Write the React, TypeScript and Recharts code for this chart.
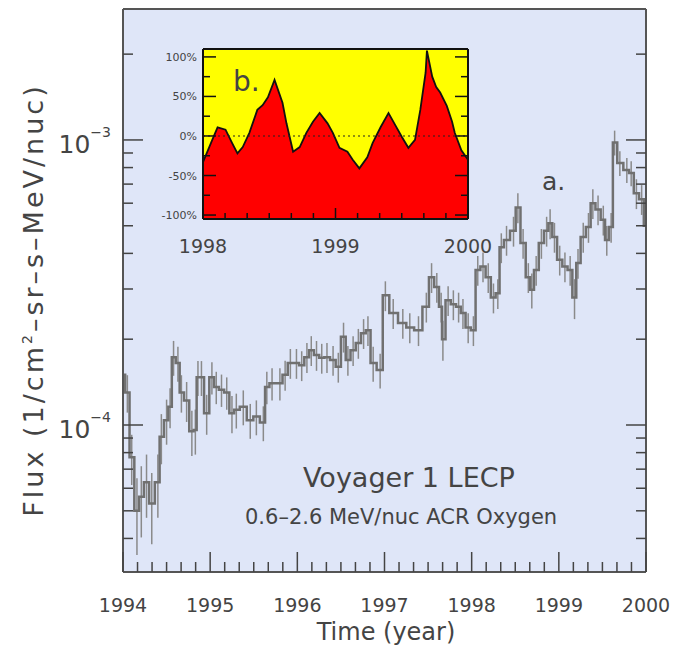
import React from 'react';
import { ComposedChart, AreaChart, Area, Line, ErrorBar, XAxis, YAxis, CartesianGrid, ReferenceLine } from 'recharts';

const FONT = '"DejaVu Sans", sans-serif';
const INK = '#444';

// panel a: ACR oxygen flux (units of 1e-4)
const fluxYears = [
  1994.00, 1994.05, 1994.10, 1994.16, 1994.21, 1994.27, 1994.33, 1994.40, 1994.44, 1994.50,
  1994.54, 1994.58, 1994.63, 1994.67, 1994.73, 1994.79, 1994.83, 1994.86, 1994.90, 1994.96,
  1995.02, 1995.07, 1995.13, 1995.19, 1995.25, 1995.30, 1995.38, 1995.46, 1995.53, 1995.61,
  1995.65, 1995.71, 1995.80, 1995.86, 1995.92, 1995.99,
  1996.05, 1996.11, 1996.16, 1996.22, 1996.28, 1996.34, 1996.41, 1996.47, 1996.53, 1996.58,
  1996.64, 1996.70, 1996.76, 1996.81, 1996.87, 1996.95,
  1997.01, 1997.10, 1997.21, 1997.29, 1997.39, 1997.48, 1997.54, 1997.60, 1997.65, 1997.67,
  1997.73, 1997.79, 1997.85, 1997.90, 1997.96,
  1998.02, 1998.07, 1998.13, 1998.19, 1998.25, 1998.30, 1998.34, 1998.40, 1998.48, 1998.53,
  1998.59, 1998.65, 1998.69, 1998.74, 1998.80, 1998.86, 1998.90, 1998.95,
  1999.01, 1999.07, 1999.13, 1999.18, 1999.22, 1999.28, 1999.34, 1999.39, 1999.45, 1999.51,
  1999.55, 1999.60, 1999.64, 1999.70, 1999.78, 1999.83, 1999.89, 1999.95,
  2000.00,
];
const fluxValues = [
  1.50, 1.30, 0.77, 0.50, 0.56, 0.63, 0.53, 0.63, 0.91, 1.04,
  1.16, 1.73, 1.65, 1.30, 1.22, 0.95, 0.96, 1.47, 1.47, 1.10,
  1.47, 1.36, 1.33, 1.30, 1.10, 1.13, 1.16, 1.04, 1.07, 1.02,
  1.36, 1.40, 1.40, 1.50, 1.65, 1.65,
  1.62, 1.73, 1.83, 1.76, 1.72, 1.73, 1.69, 1.60, 2.04, 1.69,
  1.83, 1.94, 2.10, 2.15, 1.65, 1.56,
  2.85, 2.47, 2.28, 2.20, 2.15, 2.60, 3.30, 3.05, 2.60, 2.00,
  2.74, 2.65, 2.60, 2.47, 2.20,
  2.15, 3.50, 3.60, 3.30, 2.80, 2.90, 4.20, 4.46, 4.80, 5.80,
  4.35, 3.30, 2.98, 3.50, 4.35, 4.80, 5.10, 4.57,
  3.80, 3.60, 3.50, 2.80, 3.70, 4.57, 4.95, 6.00, 5.70, 5.25,
  4.46, 4.95, 9.80, 8.30, 7.85, 7.65, 6.50, 6.20,
  5.00,
];
// error bar half length, percent of the value
const fluxErrPct = [
  15, 15, 20, 30, 28, 25, 28, 25, 20, 18,
  16, 14, 14, 15, 16, 18, 18, 14, 14, 16,
  13, 13, 13, 13, 15, 14, 14, 14, 14, 14,
  13, 13, 13, 12, 12, 12,
  12, 12, 12, 12, 12, 12, 12, 12, 12, 12,
  12, 12, 12, 12, 14, 14,
  12, 12, 12, 12, 12, 12, 12, 12, 12, 16,
  12, 12, 12, 12, 12,
  12, 12, 12, 12, 12, 12, 12, 12, 12, 12,
  12, 12, 14, 12, 12, 12, 12, 12,
  12, 12, 12, 16, 12, 12, 12, 12, 12, 12,
  12, 12, 10, 10, 10, 10, 12, 12,
  18,
];

// panel b: modulation in percent, 1998-2000
const modYears = [
  1998.00, 1998.07, 1998.11, 1998.17, 1998.22, 1998.26, 1998.30, 1998.35, 1998.41, 1998.45,
  1998.49, 1998.54, 1998.60, 1998.63, 1998.68, 1998.73, 1998.78, 1998.83, 1998.88, 1998.94,
  1998.98, 1999.03, 1999.09, 1999.13, 1999.18, 1999.24, 1999.28, 1999.34, 1999.40, 1999.45,
  1999.50, 1999.55, 1999.60, 1999.64, 1999.68, 1999.69, 1999.73, 1999.76, 1999.79, 1999.84,
  1999.88, 1999.90, 1999.95, 2000.00,
];
const modPercent = [
  -33, -5, 11, 8, -9, -22, -14, 4, 33, 39,
  49, 71, 42, 16, -20, -14, 4, 18, 29, 16,
  4, -15, -20, -30, -41, -27, -9, 11, 29, 14,
  -1, -15, -5, 33, 80, 108, 75, 62, 55, 38,
  18, 4, -18, -30,
];

const yearLabels = [1994, 1995, 1996, 1997, 1998, 1999, 2000];
const insetYearLabels = [1998, 1999, 2000];
const fluxDecades = [1e-4, 1e-3];
const fluxMinor = [4e-5, 5e-5, 6e-5, 7e-5, 8e-5, 9e-5, 2e-4, 3e-4, 4e-4, 5e-4, 6e-4, 7e-4, 8e-4, 9e-4, 2e-3];
const pctLabels = [-100, -50, 0, 50, 100];
const pctMinor = [-75, -25, 25, 75];

const mainData = fluxYears.map((t, i) => {
  const f = fluxValues[i] * 1e-4;
  const e = (f * fluxErrPct[i]) / 100;
  return { year: t, flux: f, err: [e, e] };
});
const insetData = modYears.map((t, i) => ({ year: t, mod: modPercent[i] }));

const sixths = (years: number[]) =>
  years.flatMap((y, i) => (i === years.length - 1 ? [y] : [0, 1, 2, 3, 4, 5].map((k) => y + k / 6)));
const isWhole = (v: number) => Math.abs(v - Math.round(v)) < 1e-6;

function xTick(side: 'top' | 'bottom', majorLen: number, minorLen: number, fontSize: number, dy: number, color: string) {
  return (p: any) => {
    const v = p.payload.value;
    const big = isWhole(v);
    const dir = side === 'bottom' ? -1 : 1;
    return (
      <g>
        <line x1={p.x} x2={p.x} y1={p.y} y2={p.y + dir * (big ? majorLen : minorLen)} stroke={color} strokeWidth={1.5} />
        {side === 'bottom' && big ? (
          <text x={p.x} y={p.y + dy} textAnchor="middle" fontSize={fontSize} fill={INK} fontFamily={FONT}>
            {Math.round(v)}
          </text>
        ) : null}
      </g>
    );
  };
}

function fluxTick(side: 'left' | 'right') {
  return (p: any) => {
    const v = p.payload.value;
    const big = fluxDecades.some((d) => Math.abs(d - v) / d < 1e-6);
    const dir = side === 'left' ? 1 : -1;
    return (
      <g>
        <line x1={p.x} x2={p.x + dir * (big ? 20 : 10)} y1={p.y} y2={p.y} stroke={INK} strokeWidth={1.5} />
        {side === 'left' && big ? (
          <text x={p.x - 12} y={p.y + 13} textAnchor="end" fill={INK} fontFamily={FONT}>
            <tspan fontSize={25}>10</tspan>
            <tspan fontSize={14} dy={-16}>{'\u2212' + Math.abs(Math.round(Math.log10(v)))}</tspan>
          </text>
        ) : null}
      </g>
    );
  };
}

function pctTick(side: 'left' | 'right') {
  return (p: any) => {
    const v = p.payload.value;
    const big = pctLabels.includes(v);
    const dir = side === 'left' ? 1 : -1;
    return (
      <g>
        <line x1={p.x} x2={p.x + dir * (big ? 13 : 7)} y1={p.y} y2={p.y} stroke="#111" strokeWidth={1.5} />
        {side === 'left' && big ? (
          <text x={p.x - 6} y={p.y + 4} textAnchor="end" fontSize={11} fill={INK} fontFamily={FONT}>
            {v + '%'}
          </text>
        ) : null}
      </g>
    );
  };
}

const mainXTicks = sixths(yearLabels);
const insetXTicks = sixths(insetYearLabels);
const fluxTicks = [...fluxDecades, ...fluxMinor].sort((a, b) => a - b);
const pctTicks = [...pctLabels, ...pctMinor].sort((a, b) => a - b);

export default function App() {
  return (
    <div style={{ position: 'absolute', left: 0, top: 0, width: 675, height: 648, background: '#fff', fontFamily: FONT }}>
      <ComposedChart width={675} height={648} data={mainData} margin={{ top: 8, right: 28, bottom: 46, left: 63 }}>
        <CartesianGrid xAxisId="b" yAxisId="l" fill="#dfe6f8" fillOpacity={1} horizontal={false} vertical={false} />
        <XAxis xAxisId="b" dataKey="year" type="number" domain={[1994, 2000]} allowDataOverflow ticks={mainXTicks}
          interval={0} height={30} tickSize={0} tickMargin={0} tickLine={false}
          axisLine={{ stroke: '#555', strokeWidth: 2 }} tick={xTick('bottom', 20, 10, 19, 40, INK)} />
        <XAxis xAxisId="t" orientation="top" type="number" domain={[1994, 2000]} allowDataOverflow ticks={mainXTicks}
          interval={0} height={1} tickSize={0} tickMargin={0} tickLine={false}
          axisLine={{ stroke: '#555', strokeWidth: 2 }} tick={xTick('top', 20, 10, 19, 0, INK)} />
        <YAxis yAxisId="l" type="number" scale="log" domain={[3.05e-5, 2.88e-3]} allowDataOverflow ticks={fluxTicks}
          interval={0} width={60} tickSize={0} tickMargin={0} tickLine={false}
          axisLine={{ stroke: '#555', strokeWidth: 2 }} tick={fluxTick('left')} />
        <YAxis yAxisId="r" orientation="right" type="number" scale="log" domain={[3.05e-5, 2.88e-3]} allowDataOverflow
          ticks={fluxTicks} interval={0} width={1} tickSize={0} tickMargin={0} tickLine={false}
          axisLine={{ stroke: '#555', strokeWidth: 2 }} tick={fluxTick('right')} />
        <Line xAxisId="b" yAxisId="l" dataKey="flux" type="step" stroke="#707070" strokeWidth={2.5} dot={false}
          isAnimationActive={false}>
          <ErrorBar dataKey="err" direction="y" width={0} stroke="#8a8a8a" strokeWidth={1.5} />
        </Line>
      </ComposedChart>

      <div style={{ position: 'absolute', left: 140, top: 40 }}>
        <AreaChart width={365} height={222} data={insetData} margin={{ top: 8, right: 36, bottom: 13, left: 3 }}>
          <CartesianGrid xAxisId="b" yAxisId="l" fill="#ffff00" fillOpacity={1} horizontal={false} vertical={false} />
          <XAxis xAxisId="b" dataKey="year" type="number" domain={[1998, 2000]} allowDataOverflow ticks={insetXTicks}
            interval={0} height={30} tickSize={0} tickMargin={0} tickLine={false}
            axisLine={{ stroke: '#111', strokeWidth: 2 }} tick={xTick('bottom', 11, 6, 19, 34, '#111')} />
          <XAxis xAxisId="t" orientation="top" type="number" domain={[1998, 2000]} allowDataOverflow ticks={insetXTicks}
            interval={0} height={1} tickSize={0} tickMargin={0} tickLine={false}
            axisLine={{ stroke: '#111', strokeWidth: 2 }} tick={xTick('top', 11, 6, 19, 0, '#111')} />
          <YAxis yAxisId="l" type="number" domain={[-105, 110]} allowDataOverflow ticks={pctTicks} interval={0}
            width={60} tickSize={0} tickMargin={0} tickLine={false}
            axisLine={{ stroke: '#111', strokeWidth: 2 }} tick={pctTick('left')} />
          <YAxis yAxisId="r" orientation="right" type="number" domain={[-105, 110]} allowDataOverflow ticks={pctTicks}
            interval={0} width={1} tickSize={0} tickMargin={0} tickLine={false}
            axisLine={{ stroke: '#111', strokeWidth: 2 }} tick={pctTick('right')} />
          <Area xAxisId="b" yAxisId="l" dataKey="mod" type="linear" baseValue="dataMin" stroke="#111" strokeWidth={1.8}
            fill="#ff0000" fillOpacity={1} isAnimationActive={false} />
          <ReferenceLine xAxisId="b" yAxisId="l" y={0} stroke="#222" strokeWidth={1.2} strokeDasharray="2 3" />
        </AreaChart>
      </div>

      <svg width={675} height={648} style={{ position: 'absolute', left: 0, top: 0, pointerEvents: 'none' }}
        fontFamily={FONT} fill={INK}>
        <text transform="translate(43, 300) rotate(-90)" textAnchor="middle" fontSize={27} letterSpacing={3}>
          Flux (1/cm<tspan fontSize={14} dy={-11}>2</tspan>
          <tspan dy={11}>{'\u2013sr\u2013s\u2013MeV/nuc)'}</tspan>
        </text>
        <text x={386} y={640} textAnchor="middle" fontSize={24}>Time (year)</text>
        <text x={542} y={190} fontSize={25}>a.</text>
        <text x={303} y={487} fontSize={27}>Voyager 1 LECP</text>
        <text x={245} y={524} fontSize={21}>{'0.6\u20132.6 MeV/nuc ACR Oxygen'}</text>
        <text x={233} y={91} fontSize={28}>b.</text>
      </svg>
    </div>
  );
}
